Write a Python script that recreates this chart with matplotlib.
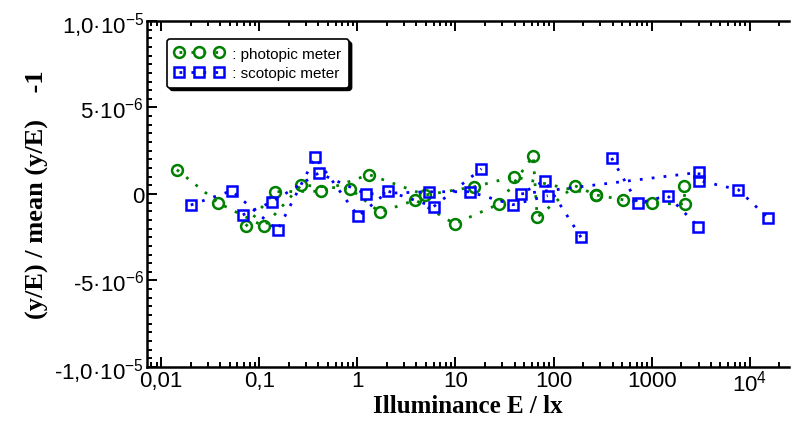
import numpy as np
import matplotlib.pyplot as plt
from matplotlib.ticker import FixedLocator, MultipleLocator, LogLocator, NullFormatter

plt.rcParams['font.family'] = ['Liberation Sans', 'DejaVu Sans']
plt.rcParams['mathtext.fontset'] = 'custom'
plt.rcParams['mathtext.rm'] = 'Liberation Sans'
plt.rcParams['mathtext.default'] = 'regular'

# photopic meter (deviation in units of 1e-6), drawn as connected runs
g1_E = [0.0145, 0.0385, 0.112, 0.269, 0.85, 1.70, 3.9, 9.8, 27.7, 62, 68, 164, 272, 509, 1016, 2170, 2140]
g1_d = [1.40, -0.52, -1.87, 0.52, 0.29, -1.06, -0.35, -1.73, -0.58, 2.21, -1.35, 0.48, -0.06, -0.33, -0.54, -0.58, 0.48]
g2_E = [0.073, 0.145, 0.43, 1.32, 4.94, 15.6, 39.4, 272]
g2_d = [-1.87, 0.13, 0.16, 1.12, -0.06, 0.42, 1.00, -0.06]

# scotopic meter
b1_E = [0.0201, 0.0525, 0.154, 0.372, 1.02, 2.06, 6.0, 18.4]
b1_d = [-0.64, 0.19, -2.10, 2.12, -1.29, 0.16, -0.73, 1.45]
b2_E = [0.068, 0.136, 0.403, 1.23, 5.43, 13.9, 38.5, 87]
b2_d = [-1.21, -0.45, 1.21, 0.0, 0.13, 0.13, -0.62, -0.10]
b3_E = [190, 81, 46, 3030, 3030, 7600, 15300]
b3_d = [-2.50, 0.77, 0.0, 1.25, 0.77, 0.25, -1.39]
b4_E = [389, 720, 1450, 2990]
b4_d = [2.08, -0.54, -0.10, -1.89]

x_ticks = [0.01, 0.1, 1, 10, 100, 1000, 1e4]
x_labels = ['0,01', '0,1', '1', '10', '100', '1000', '10$^{4}$']
y_ticks = [-1e-5, -5e-6, 0, 5e-6, 1e-5]
y_labels = ['-1,0·10$^{-5}$', '-5·10$^{-6}$', '0', '5·10$^{-6}$', '1,0·10$^{-5}$']

green = '#008000'
blue = '#0000ff'
dots = (0, (1, 3.3))

fig = plt.figure(figsize=(7.92, 4.31), dpi=100)
ax = fig.add_axes([0.1856, 0.1462, 0.8106, 0.8028])

kw_g = dict(color=green, ls=dots, lw=2, marker='o', ms=7.8, mfc='none', mew=1.8, mec=green)
kw_b = dict(color=blue, ls=dots, lw=2, marker='s', ms=7.8, mfc='none', mew=1.8, mec=blue)

ax.plot(g1_E, np.array(g1_d) * 1e-6, label=' : photopic meter', **kw_g)
ax.plot(g2_E, np.array(g2_d) * 1e-6, **kw_g)
ax.plot(b1_E, np.array(b1_d) * 1e-6, label=' : scotopic meter', **kw_b)
ax.plot(b2_E, np.array(b2_d) * 1e-6, **kw_b)
ax.plot(b3_E, np.array(b3_d) * 1e-6, **kw_b)
ax.plot(b4_E, np.array(b4_d) * 1e-6, **kw_b)

ax.set_xscale('log')
ax.set_xlim(0.0072, 2.5e4)
ax.set_ylim(-1e-5, 1e-5)

ax.xaxis.set_major_locator(FixedLocator(x_ticks))
ax.set_xticklabels(x_labels)
ax.xaxis.set_minor_locator(LogLocator(base=10, subs=np.arange(2, 10), numticks=20))
ax.xaxis.set_minor_formatter(NullFormatter())
ax.yaxis.set_major_locator(FixedLocator(y_ticks))
ax.set_yticklabels(y_labels)
ax.yaxis.set_minor_locator(MultipleLocator(0.5e-6))

ax.tick_params(which='both', direction='in', top=True, right=False, width=1.4)
ax.tick_params(which='major', length=7, labelsize=16, pad=2)
ax.tick_params(which='minor', length=3.5)
for s in ax.spines.values():
    s.set_linewidth(1.8)
ax.spines['right'].set_visible(False)

ax.set_xlabel('Illuminance E / lx', family='Liberation Serif', fontweight='bold', fontsize=18, labelpad=-1)
ax.set_ylabel('(y/E) / mean (y/E)    -1', family='Liberation Serif', fontweight='bold', fontsize=19, labelpad=4)

leg = ax.legend(loc='upper left', bbox_to_anchor=(0.031, 0.948), borderaxespad=0, numpoints=3,
                handlelength=3.2, handletextpad=0.3, fontsize=11, labelspacing=0.35,
                borderpad=0.5, frameon=True, fancybox=True,
                shadow={'color': 'black', 'alpha': 1}, edgecolor='black', framealpha=1)
leg.get_frame().set_linewidth(1.2)

fig.savefig('out.png', dpi=100)
